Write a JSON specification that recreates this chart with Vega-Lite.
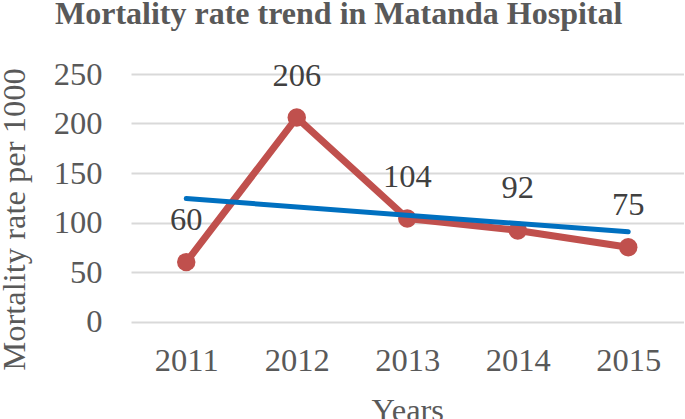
{
  "$schema": "https://vega.github.io/schema/vega-lite/v6.json",
  "autosize": {"type": "none"},
  "padding": {"left": 131, "top": 74, "right": 1.5, "bottom": 97.5},
  "width": 552.5,
  "height": 247.5,
  "background": "white",
  "title": {
    "text": "Mortality rate trend in Matanda Hospital",
    "anchor": "start",
    "frame": "group",
    "font": "Liberation Serif",
    "fontSize": 32,
    "fontWeight": "bold",
    "color": "#595959",
    "baseline": "alphabetic",
    "dx": -76,
    "dy": -2,
    "offset": 0
  },
  "config": {
    "view": {"stroke": null},
    "font": "Liberation Serif"
  },
  "datasets": {
    "rates": [
      {"year": "2011", "rate": 60},
      {"year": "2012", "rate": 206},
      {"year": "2013", "rate": 104},
      {"year": "2014", "rate": 92},
      {"year": "2015", "rate": 75}
    ],
    "trend": [
      {"year": "2011", "rate": 124.2},
      {"year": "2015", "rate": 90.6}
    ]
  },
  "encoding": {
    "x": {
      "field": "year",
      "type": "ordinal",
      "scale": {"type": "point", "padding": 0.5, "domain": ["2011", "2012", "2013", "2014", "2015"]},
      "axis": {
        "title": "Years",
        "labelAngle": 0,
        "labelFont": "Liberation Serif",
        "labelFontSize": 32.5,
        "labelColor": "#595959",
        "labelBaseline": "alphabetic",
        "labelPadding": 48.5,
        "ticks": false,
        "domain": false,
        "grid": false,
        "titleFont": "Liberation Serif",
        "titleFontSize": 32.5,
        "titleFontWeight": "normal",
        "titleColor": "#595959",
        "titleBaseline": "alphabetic",
        "titleY": 98.5
      }
    },
    "y": {
      "field": "rate",
      "type": "quantitative",
      "scale": {"domain": [0, 250], "nice": false, "zero": true},
      "axis": {
        "title": "Mortality rate per 1000",
        "values": [0, 50, 100, 150, 200, 250],
        "labelFont": "Liberation Serif",
        "labelFontSize": 32.5,
        "labelColor": "#595959",
        "labelPadding": 29,
        "ticks": false,
        "domain": false,
        "grid": true,
        "gridColor": "#d9d9d9",
        "gridWidth": 2,
        "titleFont": "Liberation Serif",
        "titleFontSize": 32.5,
        "titleFontWeight": "normal",
        "titleColor": "#595959",
        "titleAngle": -90,
        "titleAlign": "center",
        "titleBaseline": "alphabetic",
        "titleX": -107,
        "titleY": 145
      }
    }
  },
  "layer": [
    {
      "data": {"name": "rates"},
      "mark": {"type": "line", "color": "#C0504D", "strokeWidth": 7, "strokeCap": "round", "strokeJoin": "round"}
    },
    {
      "data": {"name": "rates"},
      "mark": {"type": "point", "filled": true, "shape": "circle", "size": 340, "color": "#C0504D", "opacity": 1}
    },
    {
      "data": {"name": "trend"},
      "mark": {"type": "line", "color": "#0070C0", "strokeWidth": 5, "strokeCap": "round"}
    },
    {
      "data": {"name": "rates"},
      "mark": {"type": "text", "font": "Liberation Serif", "fontSize": 32.5, "color": "#404040", "baseline": "alphabetic", "align": "center", "dy": -32},
      "encoding": {"text": {"field": "rate", "type": "quantitative"}}
    }
  ]
}
